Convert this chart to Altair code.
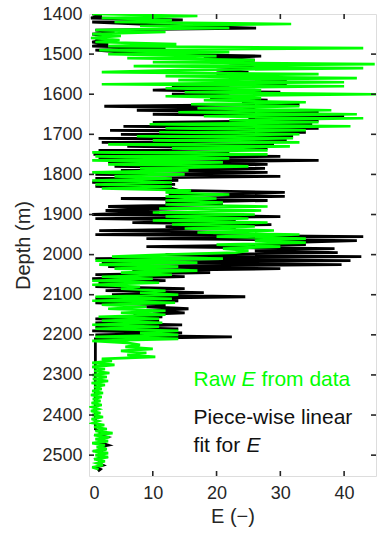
import altair as alt
import pandas as pd

# ---------------- data ----------------
DEPTH_START = 1400
DEPTH_STEP = 5

RAW_E = [
    # 1400-1495
    0.5, 17, 2, 13, 4, 31.7, 8, 22, 1, 12, 0.5, 5, 0.3, 4.8, 1, 13.7, 3, 43, 1.6, 22,
    # 1500-1595
    3, 20, 6, 26, 10, 44.8, 7, 43, 14, 2, 36, 12, 42, 14, 40, 2, 40, 12, 27, 15,
    # 1600-1695
    45, 12, 27, 18, 34, 16, 33, 17, 38, 14, 42, 18, 43, 22, 36, 9.5, 41, 12, 34, 11,
    # 1700-1795
    33, 7.5, 32, 10, 33, 3, 31.5, 13, 28, 0.5, 28, 1, 22, 0.5, 21, 3, 25, 8, 15.6, 0.5,
    # 1800-1895
    15, 4, 13, 0.5, 13, 1, 13, 2, 16, 12, 22, 12, 20, 12, 21, 12, 28, 11, 27, 10,
    # 1900-1995
    26, 12, 25, 10, 28, 13, 26, 15, 29, 17, 33, 20, 34, 26, 34, 20, 30, 21, 25, 23,
    # 2000-2095
    12, 3.6, 21, 1, 17, 1.6, 14, 4, 17, 5, 13, 2, 10, 0.5, 11, 0.5, 8, 5, 12, 8,
    # 2100-2195
    14, 1, 13, 0.5, 13.5, 2, 9, 3, 12, 5, 12, 1.5, 11, 2, 11.5, 0.5, 11, 1, 14, 8,
    # 2200-2295
    14, 1, 14, 0.5, 6, 8, 5.7, 10, 5, 9, 6, 10.4, 2, 3.6, 0.5, 4, 0.5, 2.5, 0.8, 3.2,
    # 2300-2395
    0.5, 2.8, 0.6, 3, 0.4, 2.5, 0.8, 2, 0.5, 2.2, 0.3, 2, 0.6, 1.8, 0.4, 2, 0.5, 1.5, 0.3, 1.8,
    # 2400-2495
    0.5, 2.2, 0.4, 1.5, 0.6, 2.4, 0.8, 2.8, 1, 3.7, 0.8, 3.2, 1, 3, 0.5, 2.5, 1.2, 2.8, 0.6, 3,
    # 2500-2535
    1, 3, 0.8, 2.5, 1.2, 2.2, 0.5, 1.5,
]

FIT_E = [
    # 1400-1495
    0.5, 2, 0.3, 14.7, 0.5, 8, 15.3, 26.2, 1, 4, 0.5, 3, 1, 2, 0.5, 3, 0.5, 12, 1, 5,
    # 1500-1595
    10, 27, 18, 26, 19, 28, 22, 26, 20, 25, 20, 27, 22, 31, 27, 31, 13, 22, 10, 30,
    # 1600-1695
    13, 22, 19, 28, 24, 33, 2.4, 26, 7.5, 36, 10, 40, 25, 36, 10, 35, 5.4, 36, 3.3, 34,
    # 1700-1795
    5, 32, 1.5, 31, 2, 29, 6, 28, 1.5, 22, 0.7, 30, 1.5, 36, 3, 28, 4, 27.6, 5, 28,
    # 1800-1895
    1, 30, 1, 14, 0.5, 13.5, 1, 13, 14, 30.7, 12.5, 30.7, 5, 28, 12, 21, 3, 15.6, 2.6, 11,
    # 1900-1995
    0.5, 30, 1, 23, 6.8, 28.6, 12, 23, 1.6, 25, 1, 43, 9, 42, 31, 34, 9, 38.5, 26, 39,
    # 2000-2095
    12, 42.7, 1, 41, 2, 39.6, 3, 30, 6.8, 19, 1, 15, 0.5, 12, 1.5, 6, 1, 15, 2.6, 18,
    # 2100-2195
    3.6, 24.5, 1, 14, 1, 12, 9, 15.6, 10, 15, 7, 11.5, 1, 11, 1, 14.6, 1, 14, 0.5, 14.6,
    # 2200-2295
    1, 22.4, 1, 1, 1, 1, 1, 1, 1, 1, 1, 1, 1, 1, 1, 1, 1, 1, 1, 1,
    # 2300-2395
    1, 1, 1, 1, 1, 1, 1, 1, 1, 1, 1, 1, 1, 1, 1, 1, 1, 1, 1, 1,
    # 2400-2495
    1, 1, 1, 1, 1, 1, 1, 1, 1.5, 2.5, 1.5, 2.8, 1.8, 2.5, 2, 3, 1.5, 2.6, 1.2, 2.2,
    # 2500-2540
    1.6, 2.4, 1.3, 2, 1.5, 2.2, 1.2, 1.8, 1.4,
]

X_TICKS = [0, 10, 20, 30, 40]
Y_TICKS = [1400, 1500, 1600, 1700, 1800, 1900, 2000, 2100, 2200, 2300, 2400, 2500]
X_DOMAIN = [0, 45]
Y_DOMAIN = [1400, 2552]

GREEN_TEXT = [("Raw", 0, "normal"), ("E", 48, "italic"), ("from data", 68, "normal")]
BLACK_TEXT_1 = [("Piece-wise linear", 0, "normal")]
BLACK_TEXT_2 = [("fit for", 0, "normal"), ("E", 53, "italic")]

# ---------------- layout ----------------
W, H = 287, 462
AX = "#262626"
FONT = "Liberation Sans"

raw_df = pd.DataFrame({
    "depth": [DEPTH_START + DEPTH_STEP * i for i in range(len(RAW_E))],
    "E": RAW_E,
})
fit_df = pd.DataFrame({
    "depth": [DEPTH_START + DEPTH_STEP * i for i in range(len(FIT_E))],
    "E": FIT_E,
})

xs = alt.Scale(domain=X_DOMAIN, nice=False, zero=False)
ys = alt.Scale(domain=Y_DOMAIN, nice=False, zero=False, reverse=True)

x_axis = alt.Axis(values=X_TICKS, ticks=False, tickSize=0, domain=False, grid=False,
                  labelFontSize=18, labelPadding=8, labelColor=AX, title="E (−)",
                  titleFontSize=20, titleFontWeight="normal", titleColor=AX,
                  titlePadding=4, labelFont=FONT, titleFont=FONT)
y_axis = alt.Axis(values=Y_TICKS, ticks=False, tickSize=0, domain=False, grid=False,
                  labelFontSize=18, labelPadding=7, labelColor=AX, title="Depth (m)",
                  titleFontSize=20, titleFontWeight="normal", titleColor=AX,
                  titlePadding=8, labelFont=FONT, titleFont=FONT, format="d")

fit_line = alt.Chart(fit_df).mark_line(color="#000000", strokeWidth=2.8, clip=True).encode(
    x=alt.X("E:Q", scale=xs, axis=x_axis),
    y=alt.Y("depth:Q", scale=ys, axis=y_axis),
    order=alt.Order("depth:Q"),
)
raw_line = alt.Chart(raw_df).mark_line(color="#00ff00", strokeWidth=2.6, clip=True).encode(
    x=alt.X("E:Q", scale=xs),
    y=alt.Y("depth:Q", scale=ys),
    order=alt.Order("depth:Q"),
)

xt = pd.DataFrame({"v": X_TICKS[1:]})
yt = pd.DataFrame({"v": Y_TICKS[1:]})
tick_style = dict(color=AX, strokeWidth=1.6)
ticks = [
    alt.Chart(xt).mark_rule(**tick_style).encode(x=alt.X("v:Q", scale=xs), y=alt.value(0), y2=alt.value(5)),
    alt.Chart(xt).mark_rule(**tick_style).encode(x=alt.X("v:Q", scale=xs), y=alt.value(H), y2=alt.value(H - 5)),
    alt.Chart(yt).mark_rule(**tick_style).encode(y=alt.Y("v:Q", scale=ys), x=alt.value(0), x2=alt.value(5)),
    alt.Chart(yt).mark_rule(**tick_style).encode(y=alt.Y("v:Q", scale=ys), x=alt.value(W), x2=alt.value(W - 5)),
]


def label_layers(pieces, x0, y0, color):
    layers = []
    for txt, dx, style in pieces:
        df = pd.DataFrame({"E": [x0], "depth": [y0], "t": [txt]})
        layers.append(
            alt.Chart(df).mark_text(align="left", baseline="alphabetic", dx=dx, fontSize=21,
                                    font=FONT, fontStyle=style, color=color).encode(
                x=alt.X("E:Q", scale=xs), y=alt.Y("depth:Q", scale=ys), text="t:N")
        )
    return layers


texts = (label_layers(GREEN_TEXT, 16.4, 2328, "#00ff00")
         + label_layers(BLACK_TEXT_1, 16.4, 2423.5, "#111111")
         + label_layers(BLACK_TEXT_2, 16.4, 2491.6, "#111111"))

chart = alt.layer(fit_line, raw_line, *ticks, *texts).properties(
    width=W, height=H,
    autosize=alt.AutoSizeParams(type="none"),
    padding={"left": 89, "top": 14, "right": 1, "bottom": 58},
).configure_view(stroke=AX, strokeWidth=1.8).configure(background="white")

chart.save("out.html", embed_options={"renderer": "svg", "actions": False})
